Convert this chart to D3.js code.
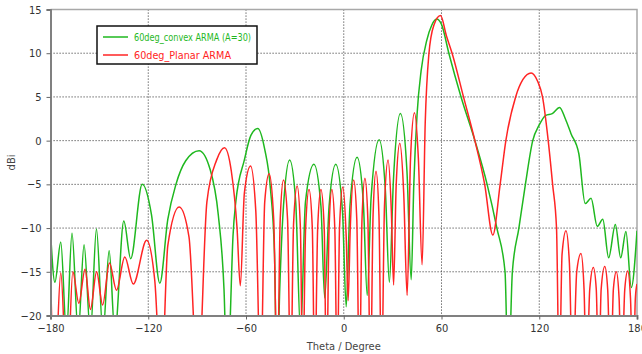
<!DOCTYPE html>
<html>
<head>
<meta charset="utf-8">
<script src="https://cdn.jsdelivr.net/npm/d3@7"></script>
<style>
  body { margin: 0; background: #fff; }
  text { font-family: Tahoma, "DejaVu Sans Condensed", "DejaVu Sans", sans-serif; }
</style>
</head>
<body>
<svg id="chart" width="642" height="354"></svg>
<script>
// tick values
const xTicks = [-180, -120, -60, 0, 60, 120, 180];
const yTicks = [-20, -15, -10, -5, 0, 5, 10, 15];

const seriesNames = ["60deg_convex ARMA (A=30)", "60deg_Planar ARMA"];

// 60deg_convex ARMA (A=30) - green
const convexTheta = [-180, -177.3, -173.7, -170.2, -166.8, -163, -159.4, -155.5, -151.8, -147.8, -144, -140.5,
  -135, -130.8, -123.7, -118, -112.9, -108, -103, -97, -88.8, -82, -77, -73.5, -71.5, -70, -68, -66.2, -61, -57,
  -52.8, -48.5, -45, -42.5, -41, -39.3, -37, -33.2, -29.5, -26.5, -23.5, -18.3, -14, -11.7, -9, -4.9, -0.8, 1.5,
  3.8, 8.2, 12, 14.4, 16.8, 21.7, 25.5, 28, 30.5, 34.8, 38.8, 41.4, 43, 45, 47.5, 51, 54, 57, 60, 64.5, 72, 80.5,
  88, 94, 99, 101, 103.5, 107.5, 111.5, 116, 120, 124, 128, 132.5, 136, 139.5, 144.3, 148.2, 151.8, 155.6, 159,
  162.6, 166.7, 170, 173.2, 176.5, 180];
const convexGain = [-10.3, -16.2, -11.6, -22, -10.6, -22, -11.9, -22, -10.1, -22, -12.6, -22,
  -9.2, -13.5, -5.0, -8.5, -16.3, -9, -5, -2.3, -1.15, -3.3, -8.5, -17, -28, -22, -11, -6.9, -2.2, 0.6,
  1.4, -1, -5.5, -13, -28, -17, -7.5, -2.2, -7, -22, -7, -2.7, -7.5, -18, -7.5, -2.7, -8, -19,
  -7.5, -1.9, -7, -17.7, -6.5, 0.1, -5.5, -16.2, -4.5, 3.1, -3.5, -15.9, -5, 3, 8, 11.5, 13.2, 13.9, 13.3, 10, 5, 0,
  -5, -10, -15, -28, -15, -10, -5, 0, 1.8, 2.9, 3.1, 3.8, 2.5, 0.8, -1.5, -7.2, -6.6, -9.8, -9.0,
  -13.4, -9.6, -13.4, -10.4, -16.8, -10.3];

// 60deg_Planar ARMA - red
const planarTheta = [-180, -177.5, -173.7, -169.8, -166.3, -162.6, -158.8, -155.5, -151.7, -148, -143.8, -139.5,
  -134.4, -129.2, -121, -116, -112, -108, -101, -95, -89.5, -84, -78, -73.2, -69, -65.5, -63.5, -61, -57.2, -54,
  -51, -48.5, -45.8, -43, -40.8, -39, -37, -34.5, -32.6, -30.8, -28.6, -26.6, -25.2, -23.4, -21.3, -19.3, -17.8,
  -16, -14, -12, -10.6, -9, -7.3, -5.5, -4, -2.6, -0.6, 1.5, 2.7, 4, 6.1, 8, 9.6, 11.2, 13, 14.8, 16.4, 18, 19.8,
  21.6, 23.2, 25, 27.2, 29.2, 30.6, 32.2, 34.4, 36.8, 38.9, 41, 43.4, 45.8, 48.1, 50, 52.2, 55.3, 59.4, 63, 66.5,
  73.5, 80.5, 86.5, 91.5, 96, 99.5, 105.5, 110, 115, 119, 122, 125.5, 128.2, 130.6, 132.3, 134, 136.4, 138.5,
  140.5, 143, 145.6, 147.5, 149, 151, 153.2, 155, 156.5, 158, 160.2, 162, 163.8, 165.5, 167.3, 169, 170.5, 172.5,
  174.3, 176, 177.6, 179, 180];
const planarGain = [-15, -28, -15.1, -28, -15.0, -18.6, -14.7, -19.3, -15.0, -18.8, -14.0, -17.1,
  -13.3, -16.4, -11.4, -16, -28, -12, -7.6, -11, -28, -7, -2.2, -0.8, -3.5, -10, -16.6, -6, -2.9, -8,
  -28, -7, -3.8, -9, -28, -9, -4.5, -9, -28, -9.5, -5.2, -10, -28, -10, -5.6, -10, -28,
  -10, -5.6, -10, -28, -10, -5.6, -10, -28, -10, -5.3, -11, -18.3, -10, -4.5, -9, -28, -9, -4.3, -9, -28, -8.5, -3.5,
  -8.5, -28, -7.5, -2.2, -8, -16.5, -5, -0.3, -6, -17.7, -2, 3.2, -2, -14.2, 2, 9.8, 13.2, 14.3, 12, 10,
  5, 0, -5, -10.8, -5, 0, 5, 7, 7.75, 6.8, 5, 0, -5, -10, -28, -13, -10.3, -14,
  -28, -15, -12.9, -17, -28, -17, -14.5, -17, -28, -17, -14.4, -17, -28, -17, -15, -18, -28, -17,
  -14.9, -18, -28, -18, -16.4];

const colors = ["#1fb81f", "#ff2424"];

const svg = d3.select("#chart");
const margin = { top: 9.5, left: 50.5, right: 5, bottom: 38.5 };
const width = 642, height = 354;

const x = d3.scaleLinear().domain([-180, 180]).range([margin.left, width - margin.right]);
const y = d3.scaleLinear().domain([-20, 15]).range([height - margin.bottom, margin.top]);

// grid
const grid = svg.append("g").attr("class", "grid");
grid.selectAll("line.gx")
  .data(xTicks.slice(1, -1))
  .join("line")
  .attr("x1", d => x(d)).attr("x2", d => x(d))
  .attr("y1", y(15)).attr("y2", y(-20));
grid.selectAll("line.gy")
  .data(yTicks.slice(1, -1))
  .join("line")
  .attr("x1", x(-180)).attr("x2", x(180))
  .attr("y1", d => y(d)).attr("y2", d => y(d));
grid.selectAll("line")
  .style("stroke", "#4a4a4a")
  .style("stroke-width", 1)
  .style("stroke-dasharray", "1.2,1.8");

// frame top / right
svg.append("path")
  .attr("d", `M${x(-180)},${y(15)}H${x(180)}V${y(-20)}`)
  .style("fill", "none")
  .style("stroke", "#a8a8a8")
  .style("stroke-width", 1.5);

// clip for curves
svg.append("clipPath").attr("id", "plotClip")
  .append("rect")
  .attr("x", x(-180)).attr("y", y(15))
  .attr("width", x(180) - x(-180)).attr("height", y(-20) - y(15));

const line = d3.line()
  .x(d => x(d[0]))
  .y(d => y(d[1]))
  .curve(d3.curveMonotoneX);

const series = [
  d3.zip(convexTheta, convexGain),
  d3.zip(planarTheta, planarGain)
];

const curves = svg.append("g").attr("clip-path", "url(#plotClip)");
series.forEach((s, i) => {
  curves.append("path")
    .datum(s)
    .attr("d", line)
    .style("fill", "none")
    .style("stroke", colors[i])
    .style("stroke-width", 1.5)
    .style("stroke-linejoin", "round");
});

// axes
const xAxis = svg.append("g")
  .attr("transform", `translate(0,${y(-20)})`)
  .call(d3.axisBottom(x).tickValues(xTicks).tickSize(4).tickPadding(5));
const yAxis = svg.append("g")
  .attr("transform", `translate(${x(-180)},0)`)
  .call(d3.axisLeft(y).tickValues(yTicks).tickSize(4).tickPadding(5));

[xAxis, yAxis].forEach(a => {
  a.select(".domain").style("stroke", "#808080").style("stroke-width", 2);
  a.selectAll(".tick line").style("stroke", "#666");
  a.selectAll(".tick text")
    .style("font-size", "11px")
    .style("fill", "#333");
});

// axis labels
svg.append("text")
  .attr("x", (x(-180) + x(180)) / 2)
  .attr("y", 350)
  .style("text-anchor", "middle")
  .style("font-size", "11px")
  .style("fill", "#444")
  .text("Theta / Degree");

svg.append("text")
  .attr("transform", `translate(15,${(y(15) + y(-20)) / 2}) rotate(-90)`)
  .style("text-anchor", "middle")
  .style("font-size", "11px")
  .style("fill", "#444")
  .text("dBi");

// legend
const legendWidths = [117, 97];
const legend = svg.append("g").attr("transform", "translate(97,26)");
legend.append("rect")
  .attr("width", 160).attr("height", 38)
  .style("fill", "#fff")
  .style("stroke", "#111")
  .style("stroke-width", 1.5);
seriesNames.forEach((name, i) => {
  const ly = 11 + i * 18;
  legend.append("line")
    .attr("x1", 6).attr("x2", 31)
    .attr("y1", ly).attr("y2", ly)
    .style("stroke", colors[i])
    .style("stroke-width", 1.5);
  legend.append("text")
    .attr("x", 37).attr("y", ly + 4)
    .attr("textLength", legendWidths[i])
    .attr("lengthAdjust", "spacingAndGlyphs")
    .style("font-size", "11px")
    .style("fill", colors[i])
    .text(name);
});
</script>
</body>
</html>
